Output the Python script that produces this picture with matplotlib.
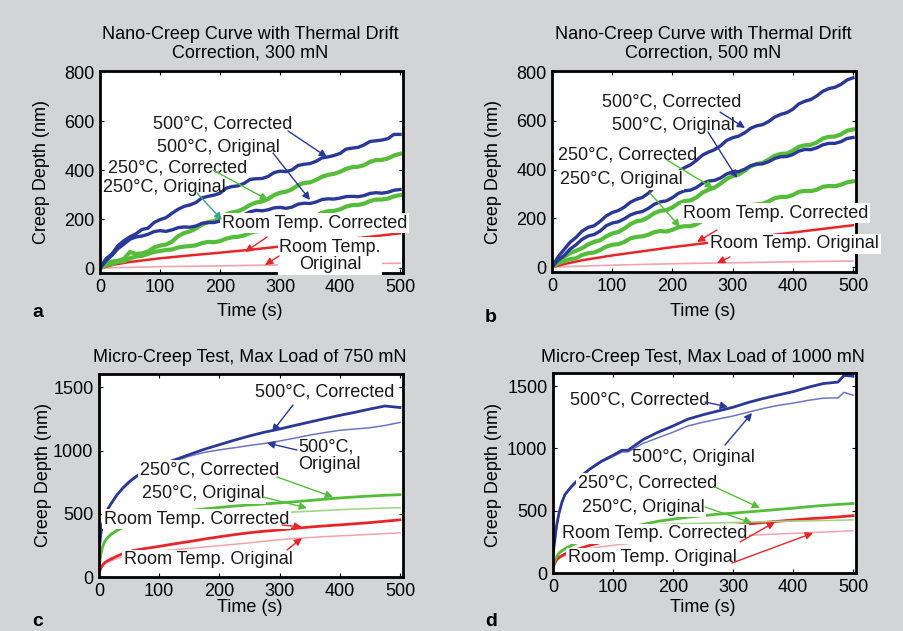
import matplotlib
matplotlib.use("Agg")
import matplotlib.pyplot as plt
from matplotlib import font_manager

# ---------------- data ----------------
T_AB = list(range(0, 501, 10))          # sample times (s) for panels a, b
T_RT = [0, 25, 50, 100, 150, 200, 250, 300, 350, 400, 450, 500]
T_RTO = [0, 100, 200, 300, 400, 500]

A_500_COR = [0, 38, 58, 92, 112, 128, 140, 158, 163, 186, 198, 206, 224, 240, 252, 258,
             268, 287, 293, 298, 306, 326, 333, 336, 346, 362, 365, 366, 374, 390, 396,
             394, 401, 419, 424, 427, 436, 450, 454, 460, 468, 486, 490, 493, 503, 517,
             520, 523, 529, 546, 546]
A_500_ORI = [0, 30, 52, 80, 98, 118, 127, 131, 138, 149, 153, 150, 156, 165, 168, 167,
             172, 183, 186, 186, 192, 203, 208, 210, 218, 230, 236, 234, 238, 246, 248,
             244, 249, 261, 265, 264, 270, 280, 283, 282, 286, 292, 293, 292, 296, 305,
             308, 306, 310, 318, 321]
A_250_COR = [0, 18, 27, 30, 38, 66, 58, 60, 68, 84, 92, 96, 108, 130, 143, 150, 162,
             178, 188, 192, 203, 219, 228, 232, 243, 258, 268, 272, 282, 298, 308, 312,
             322, 338, 348, 350, 360, 373, 381, 385, 393, 405, 412, 414, 420, 434, 441,
             442, 448, 460, 467]
A_250_ORI = [0, 12, 17, 26, 28, 40, 47, 50, 58, 66, 70, 74, 76, 84, 88, 90, 93, 102,
             107, 106, 110, 120, 126, 128, 133, 144, 150, 152, 158, 170, 176, 180, 186,
             197, 204, 208, 214, 226, 232, 234, 240, 251, 257, 258, 263, 274, 280, 280,
             284, 293, 298]
A_RT_COR = [0, 15, 25, 40, 52, 63, 75, 88, 102, 115, 128, 142]
A_RT_ORI = [0, 6, 9, 13, 17, 20]

B_500_COR = [0, 42, 72, 102, 122, 148, 163, 170, 188, 210, 224, 232, 246, 266, 278, 286,
             303, 328, 343, 352, 368, 392, 408, 420, 438, 460, 472, 482, 498, 520, 531,
             538, 551, 570, 580, 585, 598, 616, 627, 634, 648, 670, 681, 688, 703, 722,
             733, 738, 750, 768, 777]
B_500_ORI = [0, 28, 47, 74, 92, 114, 128, 134, 148, 170, 181, 186, 198, 214, 223, 228,
             241, 258, 268, 272, 285, 303, 313, 316, 327, 344, 353, 356, 366, 382, 391,
             392, 402, 416, 423, 424, 433, 446, 453, 454, 462, 476, 483, 482, 490, 502,
             508, 508, 515, 528, 532]
B_250_COR = [0, 26, 42, 58, 67, 78, 93, 104, 110, 126, 138, 144, 158, 176, 188, 192,
             205, 222, 231, 234, 245, 262, 271, 274, 286, 306, 318, 326, 343, 362, 374,
             380, 396, 414, 423, 428, 442, 457, 465, 466, 478, 494, 500, 502, 512, 528,
             535, 536, 545, 560, 565]
B_250_ORI = [0, 16, 24, 33, 36, 50, 57, 60, 70, 84, 92, 94, 103, 118, 124, 126, 133,
             144, 148, 146, 153, 164, 168, 168, 176, 190, 195, 198, 206, 220, 225, 226,
             236, 252, 258, 260, 270, 283, 288, 288, 296, 309, 313, 312, 318, 330, 333,
             332, 338, 348, 352]
B_RT_COR = [0, 15, 28, 48, 65, 82, 97, 112, 127, 142, 157, 172]
B_RT_ORI = [0, 8, 14, 18, 22, 25]

T_C = [0, 3, 6, 10, 15, 20, 30, 40, 50, 60, 80, 100, 125, 150, 175, 200, 225, 250, 275,
       300, 325, 350, 375, 400, 425, 450, 475, 500]
C_500_COR = [200, 340, 420, 480, 540, 580, 650, 706, 752, 790, 848, 888, 925, 968, 1010,
             1046, 1082, 1115, 1145, 1170, 1198, 1225, 1252, 1278, 1302, 1328, 1352, 1340]
C_500_ORI = [200, 335, 415, 475, 535, 575, 645, 700, 745, 782, 838, 878, 915, 955, 985,
             1005, 1022, 1040, 1056, 1075, 1098, 1122, 1142, 1160, 1170, 1180, 1198, 1222]
C_250_COR = [80, 180, 240, 285, 315, 338, 370, 395, 415, 438, 470, 490, 510, 525, 538,
             550, 561, 570, 578, 586, 595, 605, 615, 625, 633, 640, 646, 651]
C_250_ORI = [80, 175, 235, 280, 310, 330, 360, 385, 400, 415, 430, 440, 452, 463, 472,
             480, 488, 495, 502, 508, 514, 520, 526, 532, 537, 541, 545, 548]
C_RT_COR = [30, 70, 95, 115, 130, 142, 165, 185, 200, 212, 228, 242, 262, 280, 300,
            318, 335, 350, 362, 372, 384, 395, 404, 412, 421, 430, 441, 452]
C_RT_ORI = [30, 65, 88, 105, 118, 128, 145, 160, 172, 182, 195, 205, 215, 226, 237,
            248, 259, 270, 283, 295, 304, 312, 319, 325, 331, 337, 343, 349]

T_D = [0, 3, 6, 10, 15, 20, 30, 40, 50, 60, 80, 100, 115, 125, 150, 175, 200, 225, 250,
       275, 300, 325, 350, 375, 400, 425, 450, 475, 485, 500]
D_500_COR = [150, 260, 380, 480, 570, 630, 690, 740, 790, 830, 895, 945, 985, 985, 1070,
             1130, 1180, 1235, 1270, 1300, 1330, 1368, 1400, 1428, 1455, 1490, 1520, 1532,
             1585, 1580]
D_500_ORI = [150, 255, 375, 475, 565, 625, 685, 735, 785, 825, 888, 935, 970, 972, 1040,
             1085, 1130, 1180, 1210, 1235, 1260, 1290, 1320, 1345, 1363, 1385, 1403, 1405,
             1450, 1427]
D_250_COR = [50, 100, 130, 160, 180, 195, 220, 245, 265, 282, 310, 335, 352, 362, 390,
             415, 432, 448, 460, 472, 480, 490, 500, 510, 520, 532, 542, 550, 553, 558]
D_250_ORI = [50, 98, 127, 155, 175, 190, 212, 235, 255, 270, 300, 330, 350, 360, 383,
             388, 392, 396, 399, 402, 405, 408, 411, 414, 417, 419, 421, 423, 424, 426]
D_RT_COR = [40, 80, 105, 125, 140, 153, 172, 190, 205, 220, 245, 265, 280, 288, 305,
            320, 335, 348, 360, 371, 382, 393, 405, 415, 425, 435, 442, 450, 454, 460]
D_RT_ORI = [40, 75, 98, 115, 128, 138, 155, 170, 182, 195, 210, 222, 230, 235, 248,
            258, 266, 274, 281, 288, 296, 302, 308, 313, 318, 323, 328, 333, 336, 339]

TITLES = ["Nano-Creep Curve with Thermal Drift\nCorrection, 300 mN",
          "Nano-Creep Curve with Thermal Drift\nCorrection, 500 mN",
          "Micro-Creep Test, Max Load of 750 mN",
          "Micro-Creep Test, Max Load of 1000 mN"]
PANEL_LABELS = ["a", "b", "c", "d"]

# ---------------- style ----------------
avail = {f.name for f in font_manager.fontManager.ttflist}
FONT = [f for f in ["Liberation Sans Narrow", "Arial Narrow", "Liberation Sans"] if f in avail]
plt.rcParams['font.family'] = FONT + ['DejaVu Sans']
FS = 13

BG = '#d3d4d6'
BLUE = '#2a3897'
BLUE_L = '#6d76c2'
GREEN = '#55bd3a'
GREEN_L = '#a2d486'
RED = '#e8262a'
PINK = '#f3a3ae'

W, H = 904, 631
fig = plt.figure(figsize=(W / 100, H / 100), dpi=100, facecolor=BG)


def ax_at(l, t, r, b):
    return fig.add_axes([l / W, (H - b) / H, (r - l) / W, (b - t) / H])


def fp(x, y):
    return (x, H - y)


axA = ax_at(100, 71, 403, 273)
axB = ax_at(552, 71, 856, 272)
axC = ax_at(99, 374, 403, 577)
axD = ax_at(553, 373, 856, 573)

for ax in (axA, axB, axC, axD):
    ax.set_facecolor('white')
    for s in ax.spines.values():
        s.set_linewidth(2)
    ax.tick_params(direction='in', length=3, width=0.8, top=True, right=True,
                   labelsize=FS, pad=4)
    ax.set_xlim(0, 505)
    ax.set_xticks([0, 100, 200, 300, 400, 500])

for ax in (axA, axB):
    ax.set_ylim(-20, 805)
    ax.set_yticks([0, 200, 400, 600, 800])
for ax in (axC, axD):
    ax.set_ylim(0, 1605)
    ax.set_yticks([0, 500, 1000, 1500])

# panel a
axA.plot(T_RTO, A_RT_ORI, color=PINK, lw=1.2)
axA.plot(T_RT, A_RT_COR, color=RED, lw=1.8)
axA.plot(T_AB, A_250_ORI, color=GREEN, lw=3.0)
axA.plot(T_AB, A_250_COR, color=GREEN, lw=3.0)
axA.plot(T_AB, A_500_ORI, color=BLUE, lw=2.4)
axA.plot(T_AB, A_500_COR, color=BLUE, lw=2.4)
# panel b
axB.plot(T_RTO, B_RT_ORI, color=PINK, lw=1.2)
axB.plot(T_RT, B_RT_COR, color=RED, lw=1.8)
axB.plot(T_AB, B_250_ORI, color=GREEN, lw=3.0)
axB.plot(T_AB, B_250_COR, color=GREEN, lw=3.0)
axB.plot(T_AB, B_500_ORI, color=BLUE, lw=2.4)
axB.plot(T_AB, B_500_COR, color=BLUE, lw=2.4)
# panel c
axC.plot(T_C, C_RT_ORI, color=PINK, lw=1.1)
axC.plot(T_C, C_RT_COR, color=RED, lw=2.0)
axC.plot(T_C, C_250_ORI, color=GREEN_L, lw=1.2)
axC.plot(T_C, C_250_COR, color=GREEN, lw=2.0)
axC.plot(T_C, C_500_ORI, color=BLUE_L, lw=1.1)
axC.plot(T_C, C_500_COR, color=BLUE, lw=2.0)
# panel d
axD.plot(T_D, D_RT_ORI, color=PINK, lw=1.1)
axD.plot(T_D, D_RT_COR, color=RED, lw=2.0)
axD.plot(T_D, D_250_ORI, color=GREEN_L, lw=1.2)
axD.plot(T_D, D_250_COR, color=GREEN, lw=2.0)
axD.plot(T_D, D_500_ORI, color=BLUE_L, lw=1.1)
axD.plot(T_D, D_500_COR, color=BLUE, lw=2.0)

# titles, axis labels, panel letters
for ax, title, cx, ty in ((axA, TITLES[0], 250, 44), (axB, TITLES[1], 703, 44),
                          (axC, TITLES[2], 250, 357), (axD, TITLES[3], 703, 357)):
    fig.text(cx / W, (H - ty) / H, title, ha='center', va='center', fontsize=FS,
             linespacing=1.15)

for x, y in ((250, 311), (703, 311), (250, 608), (703, 608)):
    fig.text(x / W, (H - y) / H, "Time (s)", ha='center', va='center', fontsize=FS)
for x, y in ((42, 172), (494, 172), (44, 475), (494, 475)):
    fig.text(x / W, (H - y) / H, "Creep Depth (nm)", ha='center', va='center',
             fontsize=FS, rotation=90)
for lab, x, y in zip(PANEL_LABELS, (38, 491, 38, 491), (312, 318, 622, 622)):
    fig.text(x / W, (H - y) / H, lab, ha='center', va='center', fontsize=FS + 1,
             fontweight='bold', family=['Liberation Sans', 'DejaVu Sans'])

BOX = dict(facecolor='white', edgecolor='none', pad=1.2)


def label(ax, text, x, y, box=False, ha='left'):
    ax.annotate(text, xy=fp(x, y), xycoords='figure pixels', ha=ha, va='center',
                fontsize=FS, color='#1a1a1a', zorder=10, annotation_clip=False,
                bbox=BOX if box else None, linespacing=1.05)


def arrow(ax, x0, y0, x1, y1, color):
    ax.annotate('', xy=fp(x1, y1), xycoords='figure pixels',
                xytext=fp(x0, y0), textcoords='figure pixels', zorder=11,
                annotation_clip=False,
                arrowprops=dict(arrowstyle='-|>', color=color, lw=1.0,
                                mutation_scale=11, shrinkA=0, shrinkB=0))


# panel a labels
label(axA, "500°C, Corrected", 153, 124)
arrow(axA, 288, 131, 327, 157, BLUE)
label(axA, "500°C, Original", 157, 147)
arrow(axA, 273, 153, 310, 200, BLUE)
label(axA, "250°C, Corrected", 108, 168)
arrow(axA, 213, 170, 268, 200, GREEN)
label(axA, "250°C, Original", 103, 188)
arrow(axA, 197, 193, 222, 220, '#3aa58a')
label(axA, "Room Temp. Corrected", 222, 223, box=True)
arrow(axA, 267, 237, 245, 252, RED)
label(axA, "Room Temp.\nOriginal", 330, 256, box=True, ha='center')
arrow(axA, 279, 256, 265, 265, RED)

# panel b labels
label(axB, "500°C, Corrected", 602, 102)
arrow(axB, 720, 112, 745, 128, BLUE)
label(axB, "500°C, Original", 612, 125)
arrow(axB, 708, 132, 737, 178, BLUE)
label(axB, "250°C, Corrected", 558, 155)
arrow(axB, 667, 160, 713, 188, GREEN)
label(axB, "250°C, Original", 560, 180, box=True)
arrow(axB, 650, 193, 680, 227, GREEN)
label(axB, "Room Temp. Corrected", 683, 213, box=True)
arrow(axB, 717, 230, 697, 242, RED)
label(axB, "Room Temp. Original", 710, 244, box=True)
arrow(axB, 730, 257, 717, 263, RED)

# panel c labels
label(axC, "500°C, Corrected", 255, 392)
arrow(axC, 293, 405, 272, 432, BLUE)
label(axC, "500°C,\nOriginal", 298, 456)
arrow(axC, 297, 450, 267, 443, BLUE)
label(axC, "250°C, Corrected", 140, 470, box=True)
arrow(axC, 277, 477, 333, 497, GREEN)
label(axC, "250°C, Original", 142, 494, box=True)
arrow(axC, 263, 497, 307, 508, GREEN)
label(axC, "Room Temp. Corrected", 104, 519, box=True)
arrow(axC, 282, 525, 302, 527, RED)
label(axC, "Room Temp. Original", 124, 560, box=True)
arrow(axC, 287, 550, 302, 538, RED)

# panel d labels
label(axD, "500°C, Corrected", 570, 400)
arrow(axD, 705, 402, 728, 407, BLUE)
label(axD, "500°C, Original", 632, 457)
arrow(axD, 725, 445, 752, 413, BLUE)
label(axD, "250°C, Corrected", 578, 483, box=True)
arrow(axD, 715, 487, 760, 508, GREEN)
label(axD, "250°C, Original", 582, 507, box=True)
arrow(axD, 705, 507, 752, 523, GREEN)
label(axD, "Room Temp. Corrected", 562, 534, box=True)
arrow(axD, 740, 542, 775, 522, RED)
label(axD, "Room Temp. Original", 568, 558, box=True)
arrow(axD, 732, 563, 813, 533, RED)

fig.savefig("out.png", dpi=100, facecolor=BG)
